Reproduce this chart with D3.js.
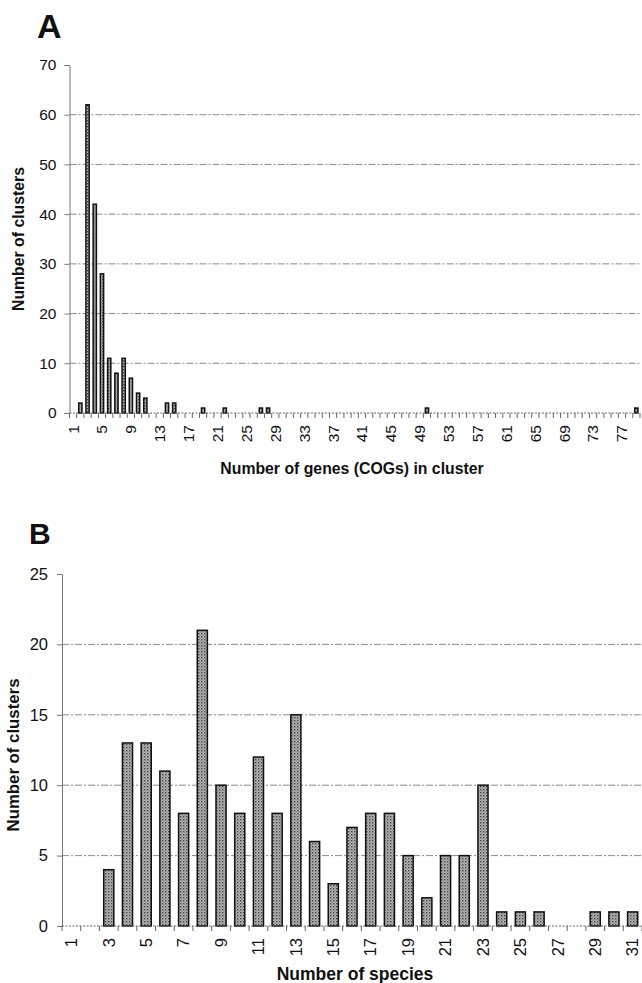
<!DOCTYPE html>
<html>
<head>
<meta charset="utf-8">
<script src="https://cdn.jsdelivr.net/npm/d3@7"></script>
<style>
  body { margin: 0; background: #fff; }
  svg text { font-family: "Liberation Sans", Arial, sans-serif; fill: #111; }
</style>
</head>
<body>
<svg id="chart" width="642" height="983"></svg>
<script>
// panel A: number of genes (COGs) per cluster, 1..79
const genesCats = d3.range(1, 80);
const genesCounts = {2: 2, 3: 62, 4: 42, 5: 28, 6: 11, 7: 8, 8: 11, 9: 7, 10: 4, 11: 3,
                     14: 2, 15: 2, 19: 1, 22: 1, 27: 1, 28: 1, 50: 1, 79: 1};
const genesTicks = [0, 10, 20, 30, 40, 50, 60, 70];

// panel B: number of species per cluster, 1..31
const speciesCats = d3.range(1, 32);
const speciesCounts = [0, 0, 4, 13, 13, 11, 8, 21, 10, 8, 12, 8, 15, 6, 3, 7, 8, 8, 5, 2, 5, 5, 10, 1, 1, 1, 0, 0, 1, 1, 1];
const speciesTicks = [0, 5, 10, 15, 20, 25];

const svg = d3.select("#chart");

// stippled grey fill like the printed bars
const defs = svg.append("defs");
const pat = defs.append("pattern").attr("id", "stipple")
    .attr("width", 3).attr("height", 3).attr("patternUnits", "userSpaceOnUse");
pat.append("rect").attr("width", 3).attr("height", 3).attr("fill", "#bdbdbd");
pat.append("rect").attr("width", 1.4).attr("height", 1.4).attr("fill", "#3a3a3a");
pat.append("rect").attr("x", 1.5).attr("y", 1.5).attr("width", 1.2).attr("height", 1.2).attr("fill", "#6a6a6a");

function panel(opts) {
    const g = svg.append("g");
    const x = d3.scaleBand().domain(opts.cats).range([opts.x0, opts.x1]).paddingInner(opts.pad).paddingOuter(opts.pad / 2);
    const y = d3.scaleLinear().domain([0, opts.ymax]).range([opts.y0, opts.y1]);

    // gridlines
    g.append("g").selectAll("line")
        .data(opts.yticks.filter(d => d > 0 && d < opts.ymax))
        .join("line")
        .attr("x1", opts.x0).attr("x2", opts.x1)
        .attr("y1", d => y(d)).attr("y2", d => y(d))
        .attr("stroke", "#8a8a8a").attr("stroke-width", 1)
        .attr("stroke-dasharray", "7,2,2,2");

    // y axis
    const ya = g.append("g").attr("transform", `translate(${opts.x0},0)`)
        .call(d3.axisLeft(y).tickValues(opts.yticks).tickSize(5).tickPadding(opts.ypad));
    ya.select(".domain").attr("stroke", "#777");
    ya.selectAll(".tick line").attr("stroke", "#777");
    ya.selectAll("text").attr("font-size", opts.yfs).attr("fill", "#111").attr("font-family", "Liberation Sans, Arial, sans-serif");

    // bars
    g.append("g").selectAll("rect")
        .data(opts.cats.filter(c => opts.val(c) > 0))
        .join("rect")
        .attr("x", c => x(c))
        .attr("width", x.bandwidth())
        .attr("y", c => y(opts.val(c)))
        .attr("height", c => opts.y0 - y(opts.val(c)))
        .attr("fill", "url(#stipple)")
        .attr("stroke", "#111").attr("stroke-width", 1.5);

    // x axis: dotted baseline, ticks at category boundaries
    g.append("line").attr("x1", opts.x0).attr("x2", opts.x1)
        .attr("y1", opts.y0).attr("y2", opts.y0)
        .attr("stroke", "#666").attr("stroke-dasharray", "2,1.5");
    const step = x.step();
    g.append("g").selectAll("line")
        .data(d3.range(opts.cats.length + 1))
        .join("line")
        .attr("x1", i => opts.x0 + i * step).attr("x2", i => opts.x0 + i * step)
        .attr("y1", opts.y0).attr("y2", opts.y0 + opts.xtick)
        .attr("stroke", "#666");

    g.append("g").selectAll("text")
        .data(opts.cats.filter(opts.xlabel))
        .join("text")
        .attr("transform", c => `translate(${x(c) + x.bandwidth() / 2 + opts.xfs * 0.35},${opts.y0 + opts.xlabTop}) rotate(-90)`)
        .attr("text-anchor", "end")
        .attr("font-size", opts.xfs)
        .text(c => c);

    // titles
    g.append("text").attr("x", opts.xtitle[0]).attr("y", opts.xtitle[1])
        .attr("text-anchor", "middle").attr("font-weight", "bold").attr("font-size", opts.xtfs)
        .text(opts.xtitleText);
    g.append("text").attr("transform", `translate(${opts.ytitle[0]},${opts.ytitle[1]}) rotate(-90)`)
        .attr("text-anchor", "middle").attr("font-weight", "bold").attr("font-size", opts.ytfs)
        .text("Number of clusters");
    g.append("text").attr("x", opts.letter[0]).attr("y", opts.letter[1])
        .attr("font-weight", "bold").attr("font-size", opts.letter[2])
        .text(opts.letterText);
}

panel({
    cats: genesCats, val: c => genesCounts[c] || 0,
    x0: 69.5, x1: 640, y0: 413, y1: 65, ymax: 70, yticks: genesTicks,
    pad: 0.55, ypad: 8, yfs: 15.5, xfs: 15.5, xtick: 5, xlabTop: 12,
    xlabel: c => (c - 1) % 4 === 0,
    xtitle: [352, 474], xtitleText: "Number of genes (COGs) in cluster", xtfs: 15.8,
    ytitle: [24, 239], ytfs: 15.8, letter: [37, 38, 34], letterText: "A"
});

panel({
    cats: speciesCats, val: c => speciesCounts[c - 1],
    x0: 62, x1: 642, y0: 926, y1: 574, ymax: 25, yticks: speciesTicks,
    pad: 0.46, ypad: 9, yfs: 16.5, xfs: 16.5, xtick: 5, xlabTop: 12,
    xlabel: c => c % 2 === 1,
    xtitle: [355, 980], xtitleText: "Number of species", xtfs: 17.5,
    ytitle: [19, 755], ytfs: 16.8, letter: [29, 544, 30], letterText: "B"
});
</script>
</body>
</html>
